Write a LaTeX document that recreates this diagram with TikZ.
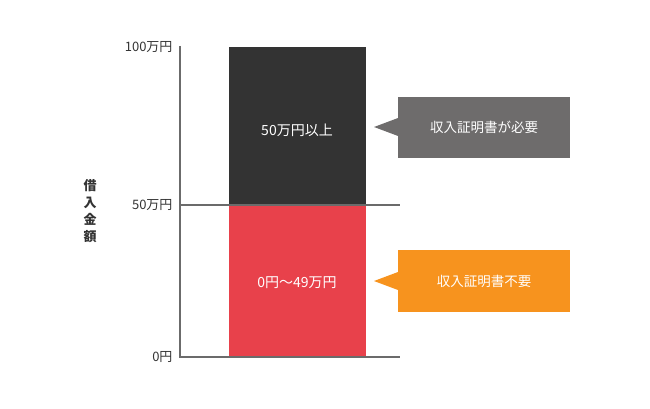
\documentclass[tikz,border=0pt]{standalone}
\usepackage{fontspec}
\setmainfont{Noto Sans CJK JP}
\begin{document}
\begin{tikzpicture}[x=1pt,y=-1pt,
  axis/.style={draw=axisgray,line width=2.5pt},
  lbl/.style={anchor=east,font=\fontsize{13}{15}\selectfont,text=black!80},
  bartext/.style={text=white,font=\fontsize{14}{16}\selectfont},
  callout/.style={text=white,font=\fontsize{13.5}{16}\selectfont}]
\definecolor{axisgray}{HTML}{6B6B6B}
\definecolor{darkbar}{HTML}{333333}
\definecolor{redbar}{HTML}{E8414B}
\definecolor{graybox}{HTML}{6E6C6C}
\definecolor{orangebox}{HTML}{F7931E}
\useasboundingbox (0,0) rectangle (650,409);
\fill[darkbar] (229,47) rectangle (366,205);
\fill[redbar] (229,205) rectangle (366,357);
\draw[axis] (180,46) -- (180,358);
\draw[axis] (180,205) -- (400,205);
\draw[axis] (180,357) -- (400,357);
\node[lbl] (l100) at (176,47) {100万円};
\node[lbl] (l50) at (176,205) {50万円};
\node[lbl] (l0) at (176,357) {0円};
\node[font=\fontsize{13}{17}\selectfont\bfseries,text=black!80,align=center] (ylab) at (90,211) {借\\入\\金\\額};
\node[bartext] (t1) at (297,130) {50万円以上};
\node[bartext] (t2) at (297,283) {0円～49万円};
\fill[graybox] (398,97) rectangle (570,158);
\fill[graybox] (398,118) -- (374,127) -- (398,136) -- cycle;
\node[callout] (c1) at (484,127) {収入証明書が必要};
\fill[orangebox] (398,250) rectangle (570,312);
\fill[orangebox] (398,272) -- (374,281) -- (398,290) -- cycle;
\node[callout] (c2) at (484,281) {収入証明書不要};
\end{tikzpicture}
\end{document}
